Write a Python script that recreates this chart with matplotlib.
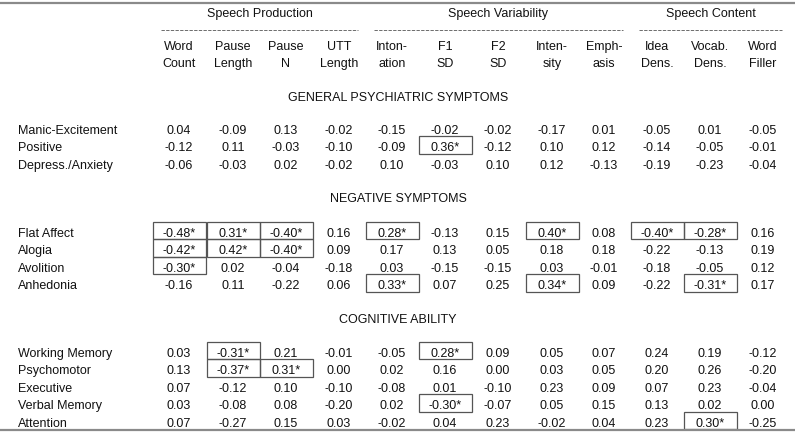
import matplotlib
matplotlib.use("Agg")
import matplotlib.pyplot as plt
from matplotlib.patches import Rectangle

plt.rcParams['font.family'] = ['Liberation Sans', 'DejaVu Sans']

# ---------------- data ----------------
col_line1 = ["Word", "Pause", "Pause", "UTT", "Inton-", "F1", "F2", "Inten-", "Emph-", "Idea", "Vocab.", "Word"]
col_line2 = ["Count", "Length", "N", "Length", "ation", "SD", "SD", "sity", "asis", "Dens.", "Dens.", "Filler"]

groups = ["Speech Production", "Speech Variability", "Speech Content"]
group_cols = [(0, 3), (4, 8), (9, 11)]

sections = ["GENERAL PSYCHIATRIC SYMPTOMS", "NEGATIVE SYMPTOMS", "COGNITIVE ABILITY"]

general_rows = ["Manic-Excitement", "Positive", "Depress./Anxiety"]
manic = [0.04, -0.09, 0.13, -0.02, -0.15, -0.02, -0.02, -0.17, 0.01, -0.05, 0.01, -0.05]
positive = [-0.12, 0.11, -0.03, -0.10, -0.09, 0.36, -0.12, 0.10, 0.12, -0.14, -0.05, -0.01]
depress = [-0.06, -0.03, 0.02, -0.02, 0.10, -0.03, 0.10, 0.12, -0.13, -0.19, -0.23, -0.04]

negative_rows = ["Flat Affect", "Alogia", "Avolition", "Anhedonia"]
flat_affect = [-0.48, 0.31, -0.40, 0.16, 0.28, -0.13, 0.15, 0.40, 0.08, -0.40, -0.28, 0.16]
alogia = [-0.42, 0.42, -0.40, 0.09, 0.17, 0.13, 0.05, 0.18, 0.18, -0.22, -0.13, 0.19]
avolition = [-0.30, 0.02, -0.04, -0.18, 0.03, -0.15, -0.15, 0.03, -0.01, -0.18, -0.05, 0.12]
anhedonia = [-0.16, 0.11, -0.22, 0.06, 0.33, 0.07, 0.25, 0.34, 0.09, -0.22, -0.31, 0.17]

cognitive_rows = ["Working Memory", "Psychomotor", "Executive", "Verbal Memory", "Attention"]
working_memory = [0.03, -0.31, 0.21, -0.01, -0.05, 0.28, 0.09, 0.05, 0.07, 0.24, 0.19, -0.12]
psychomotor = [0.13, -0.37, 0.31, 0.00, 0.02, 0.16, 0.00, 0.03, 0.05, 0.20, 0.26, -0.20]
executive = [0.07, -0.12, 0.10, -0.10, -0.08, 0.01, -0.10, 0.23, 0.09, 0.07, 0.23, -0.04]
verbal_memory = [0.03, -0.08, 0.08, -0.20, 0.02, -0.30, -0.07, 0.05, 0.15, 0.13, 0.02, 0.00]
attention = [0.07, -0.27, 0.15, 0.03, -0.02, 0.04, 0.23, -0.02, 0.04, 0.23, 0.30, -0.25]

# significant (boxed, starred) cells: (row label, column index)
significant = [
    ("Positive", 5),
    ("Flat Affect", 0), ("Flat Affect", 1), ("Flat Affect", 2), ("Flat Affect", 4),
    ("Flat Affect", 7), ("Flat Affect", 9), ("Flat Affect", 10),
    ("Alogia", 0), ("Alogia", 1), ("Alogia", 2),
    ("Avolition", 0),
    ("Anhedonia", 4), ("Anhedonia", 7), ("Anhedonia", 10),
    ("Working Memory", 1), ("Working Memory", 5),
    ("Psychomotor", 1), ("Psychomotor", 2),
    ("Verbal Memory", 5),
    ("Attention", 10),
]

blocks = [
    (general_rows, [manic, positive, depress]),
    (negative_rows, [flat_affect, alogia, avolition, anhedonia]),
    (cognitive_rows, [working_memory, psychomotor, executive, verbal_memory, attention]),
]

# ---------------- layout (pixel space) ----------------
W, H = 795, 435
fig = plt.figure(figsize=(W / 100, H / 100), dpi=100)
ax = fig.add_axes([0, 0, 1, 1])
ax.set_xlim(0, W)
ax.set_ylim(H, 0)
ax.axis("off")

FS = 9
TXT = "#111111"
CAP = 4.6  # half cap-height in px, to put baseline for visual centring

col_x = [179, 233, 286, 339, 392, 445, 498, 552, 604, 657, 710, 763]
col_w = 53
row_h = 17.5
label_x = 18

def put(x, y, s, ha="center"):
    ax.text(x, y + CAP, s, ha=ha, va="baseline", fontsize=FS, color=TXT)

# rules
ax.plot([0, W], [3.5, 3.5], color="#8a8a8a", lw=1.6, solid_capstyle="butt")
ax.plot([0, W], [430.5, 430.5], color="#8a8a8a", lw=1.6, solid_capstyle="butt")

# group headers with dashed underline
for g, (c0, c1) in zip(groups, group_cols):
    x0 = col_x[c0] - 18
    x1 = col_x[c1] + 19
    put((x0 + x1) / 2, 12, g)
    ax.plot([x0, x1], [31, 31], color="#555555", lw=0.6, dashes=(4, 1.6))

# column headers
for x, l1, l2 in zip(col_x, col_line1, col_line2):
    put(x, 45, l1)
    put(x, 62, l2)

section_y = [96, 197, 318]
first_row_y = [129, 232, 352]
sig_set = set(significant)

for sec, sy, ry0, (labels, rows) in zip(sections, section_y, first_row_y, blocks):
    put(398, sy, sec)
    for i, (lab, vals) in enumerate(zip(labels, rows)):
        y = ry0 + i * row_h
        put(label_x, y, lab, ha="left")
        for j, v in enumerate(vals):
            s = f"{v:.2f}"
            if (lab, j) in sig_set:
                s += "*"
                ax.add_patch(Rectangle((col_x[j] - col_w / 2, y - row_h / 2 - 0.5), col_w, row_h,
                                       fill=False, edgecolor="#555555", lw=0.9))
            put(col_x[j], y, s)

fig.savefig("out.png", dpi=100)
